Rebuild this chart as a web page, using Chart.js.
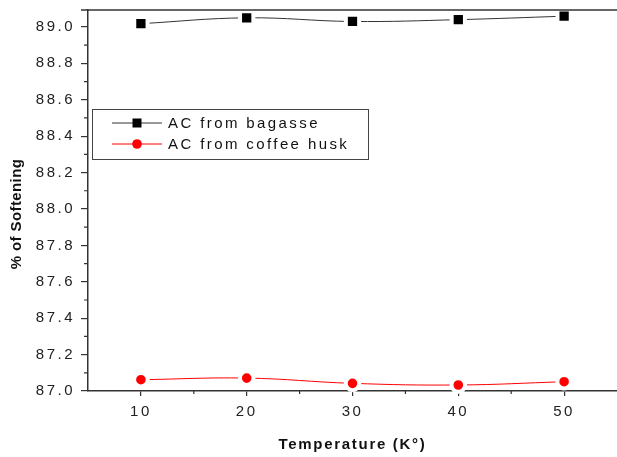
<!DOCTYPE html>
<html>
<head>
<meta charset="utf-8">
<script src="https://cdn.jsdelivr.net/npm/chart.js@4.4.0/dist/chart.umd.min.js"></script>
<style>
  html, body { margin: 0; padding: 0; background: #fff; }
  #wrap { width: 617px; height: 457px; }
</style>
</head>
<body>
<div id="wrap"><canvas id="chart"></canvas></div>
<script>
// data
const temperatures = [10, 20, 30, 40, 50];
const bagasse = [89.018, 89.05, 89.03, 89.04, 89.059];
const coffeeHusk = [87.062, 87.071, 87.042, 87.033, 87.051];
const seriesNames = ['AC from bagasse', 'AC from coffee husk'];
const xTickValues = [10, 20, 30, 40, 50];
const xMinorValues = [15, 25, 35, 45];
const yTickValues = [87.0, 87.2, 87.4, 87.6, 87.8, 88.0, 88.2, 88.4, 88.6, 88.8, 89.0];
const yMinorValues = [87.1, 87.3, 87.5, 87.7, 87.9, 88.1, 88.3, 88.5, 88.7, 88.9];

const FONT = '"Liberation Sans", Arial, sans-serif';
const AXIS = '#333';

// sets letter spacing before chart draws its tick labels
const spacing = {
    id: 'spacing',
    beforeDraw(chart) {
        chart.ctx.letterSpacing = '2.5px';
    }
};

// minor ticks, top frame line, axis titles and legend box
const extras = {
    id: 'extras',
    afterDraw(chart) {
        const ctx = chart.ctx;
        const area = chart.chartArea;
        const xs = chart.scales.x;
        const ys = chart.scales.y;
        ctx.save();
        ctx.strokeStyle = AXIS;
        ctx.lineWidth = 1.5;

        // top frame
        ctx.beginPath();
        ctx.moveTo(area.left - 7, area.top);
        ctx.lineTo(area.right, area.top);
        ctx.stroke();

        // minor ticks
        ctx.lineWidth = 1.2;
        ctx.beginPath();
        yMinorValues.forEach(v => {
            const y = ys.getPixelForValue(v);
            ctx.moveTo(area.left, y);
            ctx.lineTo(area.left - 4, y);
        });
        xMinorValues.forEach(v => {
            const x = xs.getPixelForValue(v);
            ctx.moveTo(x, area.bottom);
            ctx.lineTo(x, area.bottom + 3);
        });
        ctx.stroke();

        // axis titles
        ctx.fillStyle = '#111';
        ctx.font = 'bold 15px ' + FONT;
        ctx.textAlign = 'center';
        ctx.textBaseline = 'middle';
        ctx.letterSpacing = '1.7px';
        ctx.fillText('Temperature (K°)', (area.left + area.right) / 2, 445);
        ctx.save();
        ctx.translate(17, 214);
        ctx.rotate(-Math.PI / 2);
        ctx.letterSpacing = '0.4px';
        ctx.fillText('% of Softening', 0, 0);
        ctx.restore();

        // legend
        const bx = 92, by = 109, bw = 276, bh = 50;
        ctx.strokeStyle = '#444';
        ctx.lineWidth = 1;
        ctx.strokeRect(bx + 0.5, by + 0.5, bw, bh);
        const rows = [
            { y: 123, color: '#333', fill: '#000', shape: 'rect' },
            { y: 144, color: '#ff0000', fill: '#ff0000', shape: 'circle' }
        ];
        ctx.font = '15px ' + FONT;
        ctx.textAlign = 'left';
        ctx.letterSpacing = '2.4px';
        rows.forEach((r, i) => {
            ctx.strokeStyle = r.color;
            ctx.beginPath();
            ctx.moveTo(112, r.y);
            ctx.lineTo(162, r.y);
            ctx.stroke();
            ctx.fillStyle = r.fill;
            if (r.shape === 'rect') {
                ctx.fillRect(137 - 4.5, r.y - 4.5, 9, 9);
            } else {
                ctx.beginPath();
                ctx.arc(137, r.y, 4.8, 0, Math.PI * 2);
                ctx.fill();
            }
            ctx.fillStyle = '#111';
            ctx.fillText(seriesNames[i], 168, r.y + 1);
        });
        ctx.restore();
    }
};

new Chart(document.getElementById('chart'), {
    type: 'line',
    data: {
        labels: temperatures,
        datasets: [{
            label: seriesNames[0],
            data: temperatures.map((t, i) => ({ x: t, y: bagasse[i] })),
            borderColor: '#333',
            borderWidth: 1,
            backgroundColor: '#000',
            pointStyle: 'rect',
            pointRadius: 9.4,
            pointBorderColor: '#fff',
            pointBorderWidth: 4,
            pointBackgroundColor: '#000',
            tension: 0.4,
            clip: false
        }, {
            label: seriesNames[1],
            data: temperatures.map((t, i) => ({ x: t, y: coffeeHusk[i] })),
            borderColor: '#ff0000',
            borderWidth: 1,
            backgroundColor: '#ff0000',
            pointStyle: 'circle',
            pointRadius: 6.8,
            pointBorderColor: '#fff',
            pointBorderWidth: 4,
            pointBackgroundColor: '#ff0000',
            tension: 0.4,
            clip: false
        }]
    },
    options: {
        responsive: true,
        maintainAspectRatio: false,
        animation: false,
        events: [],
        layout: { autoPadding: false, padding: { top: 10, right: 0, left: 0, bottom: 0 } },
        plugins: {
            legend: { display: false },
            tooltip: { enabled: false }
        },
        scales: {
            x: {
                type: 'linear',
                min: 5,
                max: 55,
                afterBuildTicks(scale) { scale.ticks = xTickValues.map(v => ({ value: v })); },
                afterFit(scale) {
                    scale.height = 66;
                    scale.paddingLeft = 0;
                    scale.paddingRight = 0;
                },
                border: { display: true, color: AXIS, width: 1.5 },
                grid: { drawOnChartArea: false, drawTicks: true, tickLength: 5, color: AXIS, lineWidth: 1.2 },
                ticks: {
                    autoSkip: false,
                    maxRotation: 0,
                    padding: 7,
                    color: '#222',
                    font: { family: FONT, size: 15 },
                    callback: v => String(v)
                }
            },
            y: {
                min: 87.0,
                max: 89.093,
                afterBuildTicks(scale) { scale.ticks = yTickValues.map(v => ({ value: v })); },
                afterFit(scale) {
                    scale.width = 88;
                    scale.paddingTop = 0;
                    scale.paddingBottom = 0;
                },
                border: { display: true, color: AXIS, width: 1.5 },
                grid: { drawOnChartArea: false, drawTicks: true, tickLength: 7, color: AXIS, lineWidth: 1.2 },
                ticks: {
                    padding: 6,
                    color: '#222',
                    font: { family: FONT, size: 15 },
                    callback: v => Number(v).toFixed(1)
                }
            }
        }
    },
    plugins: [spacing, extras]
});
</script>
</body>
</html>
